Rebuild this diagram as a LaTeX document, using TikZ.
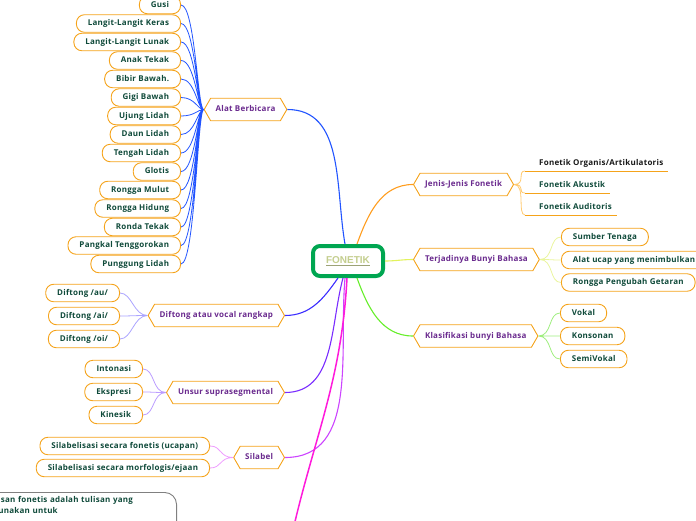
\documentclass[tikz,border=0pt]{standalone}
\usepackage{fontspec}
\setmainfont{Open Sans}[LetterSpace=3]
\newfontfamily\rootfont{Liberation Sans}
\usetikzlibrary{shapes.symbols}

\definecolor{boxorange}{HTML}{F5A31A}
\definecolor{leafgreen}{HTML}{0F4A3A}
\definecolor{topicpurple}{HTML}{6A2A8E}
\definecolor{rootgreen}{HTML}{00A651}
\definecolor{roottext}{HTML}{C4CE8E}
\definecolor{rootline}{HTML}{9CA276}
\definecolor{alatblue}{HTML}{2254FF}
\definecolor{jenisorange}{HTML}{FF9D1E}
\definecolor{jenislight}{HTML}{FFCB73}
\definecolor{bunyiyellow}{HTML}{E2F25C}
\definecolor{bunyilight}{HTML}{EAF59E}
\definecolor{klasgreen}{HTML}{66EE2A}
\definecolor{klaslight}{HTML}{9FEE7F}
\definecolor{diftongblue}{HTML}{3C2EFF}
\definecolor{diftonglight}{HTML}{ABA4FF}
\definecolor{unsurviolet}{HTML}{7A2CFF}
\definecolor{unsurlight}{HTML}{BB9CFF}
\definecolor{silabelpink}{HTML}{CC44FF}
\definecolor{silabellight}{HTML}{EE9CFF}
\definecolor{notemagenta}{HTML}{FF1ADB}

\begin{document}
\begin{tikzpicture}[x=1pt, y=1pt,
  every node/.style={font=\bfseries\fontsize{8}{10.5}\selectfont},
  leaf/.style={draw=boxorange, line width=0.9pt, fill=white, rounded corners=8pt,
    minimum height=17.5pt, inner xsep=11.5pt, inner ysep=0pt, text height=6pt, text depth=1.6pt, text=leafgreen},
  topic/.style={shape=signal, signal to=east and west, signal pointer angle=120,
    draw=boxorange, line width=0.9pt, fill=white, minimum height=22.5pt, inner xsep=5pt,
    text height=6pt, text depth=1.6pt, text=topicpurple},
  subtext/.style={inner sep=0pt, anchor=west, text=leafgreen},
  branch/.style={line width=1.1pt},
  twig/.style={line width=0.8pt}]
\useasboundingbox (0,0) rectangle (696,-520);
\clip (0,0) rectangle (696,-520);

\node[draw=rootgreen, line width=4pt, rounded corners=7pt, fill=white, minimum width=70pt, minimum height=30pt,
  font=\rootfont\bfseries\fontsize{10}{12}\selectfont] (fonetik) at (348,-261)
  {\textcolor{rootline}{\underline{\textcolor{roottext}{FONETIK}}}};

\node[topic] (alat) at (245.5,-109.5) {Alat Berbicara};
\node[leaf, anchor=east] (gusi) at (181,-5) {Gusi};
\node[leaf, anchor=east] (keras) at (181,-23.5) {Langit-Langit Keras};
\node[leaf, anchor=east] (lunak) at (181,-42) {Langit-Langit Lunak};
\node[leaf, anchor=east] (tekak) at (181,-60.5) {Anak Tekak};
\node[leaf, anchor=east] (bibir) at (181,-79) {Bibir Bawah.};
\node[leaf, anchor=east] (gigi) at (181,-97.5) {Gigi Bawah};
\node[leaf, anchor=east] (ujung) at (181,-116) {Ujung Lidah};
\node[leaf, anchor=east] (daun) at (181,-134.5) {Daun Lidah};
\node[leaf, anchor=east] (tengah) at (181,-153) {Tengah Lidah};
\node[leaf, anchor=east] (glotis) at (181,-171.5) {Glotis};
\node[leaf, anchor=east] (mulut) at (181,-190) {Rongga Mulut};
\node[leaf, anchor=east] (hidung) at (181,-208.5) {Rongga Hidung};
\node[leaf, anchor=east] (ronda) at (181,-227) {Ronda Tekak};
\node[leaf, anchor=east] (pangkal) at (181,-245.5) {Pangkal Tenggorokan};
\node[leaf, anchor=east] (punggung) at (181,-264) {Punggung Lidah};

\node[topic, anchor=west] (jenis) at (413,-184.5) {Jenis-Jenis Fonetik};
\node[subtext, text=black!90] (organis) at (539,-163) {Fonetik Organis/Artikulatoris};
\node[subtext] (akustik) at (539,-184.5) {Fonetik Akustik};
\node[subtext] (auditoris) at (539,-206) {Fonetik Auditoris};
\coordinate (organis-u) at (525,-171);
\coordinate (akustik-u) at (525,-193);
\coordinate (auditoris-u) at (525,-215);

\node[topic, anchor=west] (bunyi) at (413,-259.5) {Terjadinya Bunyi Bahasa};
\node[leaf, anchor=west] (tenaga) at (561,-237) {Sumber Tenaga};
\node[leaf, anchor=west] (alatucap) at (561,-260) {Alat ucap yang menimbulkan getaran};
\node[leaf, anchor=west] (rongga) at (561,-282.5) {Rongga Pengubah Getaran};

\node[topic, anchor=west] (klas) at (413,-336) {Klasifikasi bunyi Bahasa};
\node[leaf, anchor=west] (vokal) at (560,-313) {Vokal};
\node[leaf, anchor=west] (konsonan) at (560,-336) {Konsonan};
\node[leaf, anchor=west] (semivokal) at (560,-359) {SemiVokal};

\node[topic, anchor=east] (diftong) at (285,-315.5) {Diftong atau vocal rangkap};
\node[leaf, anchor=east] (au) at (120,-293) {Diftong /au/};
\node[leaf, anchor=east] (ai) at (120,-316) {Diftong /ai/};
\node[leaf, anchor=east] (oi) at (120,-339) {Diftong /oi/};

\node[topic, anchor=east] (unsur) at (285,-392.5) {Unsur suprasegmental};
\node[leaf, anchor=east] (intonasi) at (143,-369) {Intonasi};
\node[leaf, anchor=east] (ekspresi) at (143,-392) {Ekspresi};
\node[leaf, anchor=east] (kinesik) at (143,-415) {Kinesik};

\node[topic, anchor=east] (silabel) at (285,-457.5) {Silabel};
\node[leaf, anchor=east] (ucapan) at (210,-446) {Silabelisasi secara fonetis (ucapan)};
\node[leaf, anchor=east] (ejaan) at (210,-468) {Silabelisasi secara morfologis/ejaan};

\node[draw=black!50, line width=0.9pt, rounded corners=12pt, anchor=north east, text width=182pt,
  text depth=30pt, inner xsep=9pt, inner ysep=4pt, align=left, text=leafgreen] (note) at (177,-492)
  {Tulisan fonetis adalah tulisan yang\\digunakan untuk};
\coordinate (down) at (289,-548);

\draw[branch, alatblue] (alat.east) to[out=0, in=100] ([xshift=-3pt]fonetik.north);
\draw[branch, jenisorange] ([xshift=9pt]fonetik.north) to[out=70, in=180] (jenis.west);
\draw[branch, bunyiyellow] (fonetik.east) to[out=0, in=180] (bunyi.west);
\draw[branch, klasgreen] ([xshift=9pt]fonetik.south) to[out=-70, in=180] (klas.west);
\draw[branch, diftongblue] ([xshift=-10pt]fonetik.south) to[out=-125, in=0] (diftong.east);
\draw[branch, unsurviolet] ([xshift=-5pt]fonetik.south) to[out=-105, in=0] (unsur.east);
\draw[branch, silabelpink] ([xshift=-3pt]fonetik.south) to[out=-95, in=0] (silabel.east);
\draw[line width=1.5pt, notemagenta] ([xshift=-1pt]fonetik.south) to[out=-93, in=78] (down);

\draw[twig, alatblue] (gusi.east) .. controls +(14,0) and +(-6,0) .. (alat.west)
  (keras.east) .. controls +(14,0) and +(-6,0) .. (alat.west)
  (lunak.east) .. controls +(14,0) and +(-6,0) .. (alat.west)
  (tekak.east) .. controls +(14,0) and +(-6,0) .. (alat.west)
  (bibir.east) .. controls +(14,0) and +(-6,0) .. (alat.west)
  (gigi.east) .. controls +(14,0) and +(-6,0) .. (alat.west)
  (ujung.east) .. controls +(14,0) and +(-6,0) .. (alat.west)
  (daun.east) .. controls +(14,0) and +(-6,0) .. (alat.west)
  (tengah.east) .. controls +(14,0) and +(-6,0) .. (alat.west)
  (glotis.east) .. controls +(14,0) and +(-6,0) .. (alat.west)
  (mulut.east) .. controls +(14,0) and +(-6,0) .. (alat.west)
  (hidung.east) .. controls +(14,0) and +(-6,0) .. (alat.west)
  (ronda.east) .. controls +(14,0) and +(-6,0) .. (alat.west)
  (pangkal.east) .. controls +(14,0) and +(-6,0) .. (alat.west)
  (punggung.east) .. controls +(14,0) and +(-6,0) .. (alat.west);

\draw[twig, jenislight] (jenis.east) .. controls +(12,0) and +(-8,0) .. (organis-u)
  (jenis.east) .. controls +(12,0) and +(-8,0) .. (akustik-u)
  (jenis.east) .. controls +(12,0) and +(-8,0) .. (auditoris-u);
\draw[line width=0.9pt, boxorange] (organis-u) -- ([xshift=5pt]organis.east |- organis-u)
  (akustik-u) -- ([xshift=5pt]akustik.east |- akustik-u)
  (auditoris-u) -- ([xshift=5pt]auditoris.east |- auditoris-u);

\draw[twig, bunyilight] (bunyi.east) .. controls +(14,0) and +(-12,0) .. (tenaga.west)
  (bunyi.east) .. controls +(14,0) and +(-12,0) .. (alatucap.west)
  (bunyi.east) .. controls +(14,0) and +(-12,0) .. (rongga.west);
\draw[twig, klaslight] (klas.east) .. controls +(14,0) and +(-12,0) .. (vokal.west)
  (klas.east) .. controls +(14,0) and +(-12,0) .. (konsonan.west)
  (klas.east) .. controls +(14,0) and +(-12,0) .. (semivokal.west);
\draw[twig, diftonglight] (diftong.west) .. controls +(-14,0) and +(12,0) .. (au.east)
  (diftong.west) .. controls +(-14,0) and +(12,0) .. (ai.east)
  (diftong.west) .. controls +(-14,0) and +(12,0) .. (oi.east);
\draw[twig, unsurlight] (unsur.west) .. controls +(-14,0) and +(12,0) .. (intonasi.east)
  (unsur.west) .. controls +(-14,0) and +(12,0) .. (ekspresi.east)
  (unsur.west) .. controls +(-14,0) and +(12,0) .. (kinesik.east);
\draw[twig, silabellight] (silabel.west) .. controls +(-14,0) and +(12,0) .. (ucapan.east)
  (silabel.west) .. controls +(-14,0) and +(12,0) .. (ejaan.east);
\end{tikzpicture}
\end{document}
